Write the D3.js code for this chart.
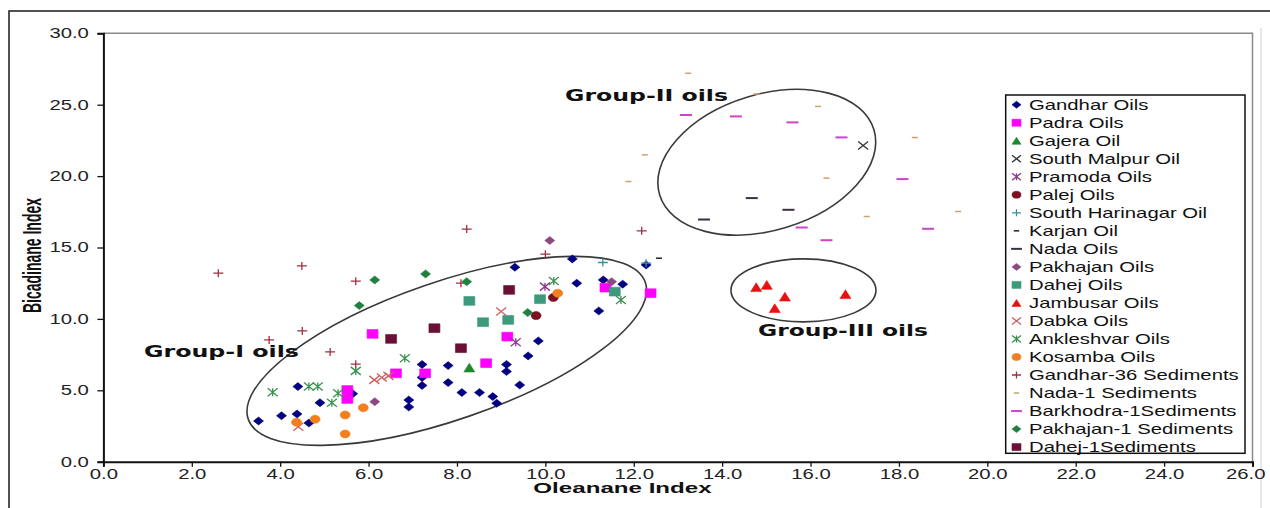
<!DOCTYPE html>
<meta charset="utf-8">
<script src="https://cdn.jsdelivr.net/npm/d3@7"></script>
<style>
  body { margin: 0; background: #fff; }
  text { font-family: "Liberation Sans", Arial, sans-serif; }
</style>
<div id="chart"></div>
<script>
// ---- data (Oleanane Index, Bicadinane Index) ----
var gandharOils = [[3.51,2.85],[4.03,3.22],[4.38,3.34],[4.40,5.26],[4.65,2.71],[4.90,4.13],[5.64,4.76],
  [6.91,4.32],[6.91,3.83],[7.21,6.81],[7.21,5.90],[7.21,5.34],[7.80,6.73],[7.80,5.54],[8.11,4.84],[8.51,4.84],
  [8.81,4.56],[8.90,4.09],[9.12,6.81],[9.12,6.32],[9.42,5.37],[9.61,7.41],[9.84,8.46],[9.31,13.62],[10.61,14.20],
  [10.71,12.50],[11.21,10.56],[11.31,12.73],[11.75,12.43],[12.28,13.78]];
var padraOils = [[6.09,8.95],[6.62,6.19],[5.52,5.02],[5.52,4.39],[9.14,8.76],[8.66,6.90],[7.28,6.19],[11.36,12.19],[12.38,11.80]];
var gajeraOil = [[8.28,6.59]];
var southMalpurOil = [[17.19,22.14]];
var pramodaOils = [[9.99,12.26],[9.33,8.37]];
var palejOils = [[10.18,11.50],[9.79,10.23]];
var southHarinagarOil = [[11.30,13.95],[12.28,13.90]];
var karjanOil = [[12.57,14.25]];
var nadaOils = [[14.67,18.46],[13.59,16.96],[15.50,17.64]];
var pakhajanOils = [[10.10,15.49],[6.14,4.20],[11.50,12.61]];
var dahejOils = [[8.28,11.26],[8.59,9.77],[9.16,9.93],[9.88,11.38],[11.57,11.91]];
var jambusarOils = [[14.77,12.22],[15.01,12.38],[15.42,11.56],[15.19,10.75],[16.79,11.73]];
var dabkaOils = [[6.13,5.73],[6.30,5.89],[6.45,6.01],[4.41,2.45],[9.00,10.51]];
var ankleshvarOils = [[3.83,4.86],[4.65,5.26],[4.85,5.26],[5.31,4.79],[5.17,4.13],[5.71,6.36],[6.82,7.25],[10.19,12.66],[11.71,11.33]];
var kosambaOils = [[4.37,2.76],[4.79,2.97],[5.47,3.27],[5.47,1.94],[5.88,3.78],[10.28,11.80]];
var gandhar36Sed = [[2.60,13.20],[4.49,13.71],[5.71,12.64],[3.75,8.53],[4.50,9.16],[5.13,7.69],[5.71,6.83],[8.22,16.29],[12.18,16.17],[10.00,14.53],[8.09,12.50]];
var nada1Sed = [[13.23,27.20],[14.78,25.75],[16.17,24.88],[12.25,21.49],[11.88,19.62],[16.36,19.86],[18.36,22.70],[17.27,17.17],[19.34,17.52]];
var barkhodra1Sed = [[13.18,24.28],[14.31,24.18],[15.59,23.76],[16.70,22.71],[18.08,19.79],[15.80,16.40],[16.36,15.51],[18.66,16.31]];
var pakhajan1Sed = [[6.14,12.73],[5.79,10.93],[7.29,13.15],[8.22,12.61],[9.60,10.44]];
var dahej1Sed = [[6.51,8.60],[9.18,12.03],[7.49,9.35],[8.09,7.95]];

var xTicks = d3.range(0, 26.1, 2);
var yTicks = d3.range(0, 30.1, 5);

// series: name, values, shape, colour (legend order)
var series = [
  {name: "Gandhar Oils", values: gandharOils, shape: "diamond", color: "#000080"},
  {name: "Padra Oils", values: padraOils, shape: "square", color: "#ff00ff"},
  {name: "Gajera Oil", values: gajeraOil, shape: "triangle", color: "#1d8a2a"},
  {name: "South Malpur Oil", values: southMalpurOil, shape: "cross", color: "#333333"},
  {name: "Pramoda Oils", values: pramodaOils, shape: "star", color: "#8a3a8a"},
  {name: "Palej Oils", values: palejOils, shape: "circle", color: "#7a1020"},
  {name: "South Harinagar Oil", values: southHarinagarOil, shape: "plus", color: "#3a9090"},
  {name: "Karjan Oil", values: karjanOil, shape: "dash", color: "#222222"},
  {name: "Nada Oils", values: nadaOils, shape: "longdash", color: "#3a3040"},
  {name: "Pakhajan Oils", values: pakhajanOils, shape: "diamond", color: "#8a4a80"},
  {name: "Dahej Oils", values: dahejOils, shape: "square", color: "#3d9a7c"},
  {name: "Jambusar Oils", values: jambusarOils, shape: "triangle", color: "#e81010"},
  {name: "Dabka Oils", values: dabkaOils, shape: "cross", color: "#cc6060"},
  {name: "Ankleshvar Oils", values: ankleshvarOils, shape: "star", color: "#3a9050"},
  {name: "Kosamba Oils", values: kosambaOils, shape: "circle", color: "#f07f1f"},
  {name: "Gandhar-36 Sediments", values: gandhar36Sed, shape: "plus", color: "#a03040"},
  {name: "Nada-1  Sediments", values: nada1Sed, shape: "dash", color: "#d0a070"},
  {name: "Barkhodra-1Sediments", values: barkhodra1Sed, shape: "longdash", color: "#cc44cc"},
  {name: "Pakhajan-1  Sediments", values: pakhajan1Sed, shape: "diamond", color: "#1f8040"},
  {name: "Dahej-1Sediments", values: dahej1Sed, shape: "square", color: "#6a1036"}
];

// group outlines: centre in data units, radii in px, angle in degrees
var groups = [
  {label: "Group-I oils", cx: 7.77, cy: 7.76, rx: 210, ry: 69, angle: -19, tx: 144, ty: 356.5, tw: 155},
  {label: "Group-II oils", cx: 15.01, cy: 20.97, rx: 112, ry: 68, angle: -17, tx: 565, ty: 100.5, tw: 163},
  {label: "Group-III oils", cx: 15.84, cy: 12.0, rx: 72.5, ry: 31.5, angle: 0, tx: 758, ty: 335.5, tw: 170}
];

var W = 1270, H = 508, sx = 1.45;
var margin = {top: 33.3, right: 17.5, bottom: 46.3, left: 103.4};

var svg = d3.select("#chart").append("svg")
  .attr("width", W).attr("height", H);

var x = d3.scaleLinear().domain([0, 26]).range([margin.left, W - margin.right]);
var y = d3.scaleLinear().domain([0, 30]).range([H - margin.bottom, margin.top]);

// outer frame
svg.append("path").attr("d", "M9,508 V11 H1270").attr("fill", "none").attr("stroke", "#1a1a1a").attr("stroke-width", 1.5);
svg.append("line").attr("x1", 1261).attr("x2", 1261).attr("y1", 28).attr("y2", 508).attr("stroke", "#d0d0d0");

// plot area border
svg.append("path")
  .attr("d", "M" + x(0) + "," + y(30) + " H" + x(26) + " V" + y(0))
  .attr("fill", "none").attr("stroke", "#8a8a8a").attr("stroke-width", 1.5);

function shapePath(shape, w, h) {
  var a = w / 2, b = h / 2;
  switch (shape) {
    case "diamond": return "M0," + (-b) + "L" + a + ",0L0," + b + "L" + (-a) + ",0Z";
    case "square": return "M" + (-a) + "," + (-b) + "H" + a + "V" + b + "H" + (-a) + "Z";
    case "triangle": return "M0," + (-b) + "L" + a + "," + b + "H" + (-a) + "Z";
    case "circle": return "M" + (-a) + ",0A" + a + "," + b + " 0 1,0 " + a + ",0A" + a + "," + b + " 0 1,0 " + (-a) + ",0Z";
    case "cross": return "M" + (-a) + "," + (-b) + "L" + a + "," + b + "M" + (-a) + "," + b + "L" + a + "," + (-b);
    case "plus": return "M" + (-a) + ",0H" + a + "M0," + (-b) + "V" + b;
    case "star": return "M" + (-a) + "," + (-b) + "L" + a + "," + b + "M" + (-a) + "," + b + "L" + a + "," + (-b) + "M0," + (-b) + "V" + b;
    case "dash": return "M" + (-a * 0.6) + ",0H" + (a * 0.6);
    case "longdash": return "M" + (-a * 1.2) + ",0H" + (a * 1.2);
  }
}
var filled = {diamond: 1, square: 1, triangle: 1, circle: 1};
function styleMarker(sel, s) {
  if (filled[s.shape]) sel.attr("fill", s.color).attr("stroke", s.color).attr("stroke-width", 0.6);
  else sel.attr("fill", "none").attr("stroke", s.color)
          .attr("stroke-width", s.shape === "longdash" ? 2 : (s.shape === "dash" ? 1.5 : 1.3));
}

// axes
var yAxis = svg.append("g")
  .attr("transform", "translate(" + x(0) + ",0)")
  .call(d3.axisLeft(y).tickValues(yTicks).tickFormat(d3.format(".1f")).tickSize(6).tickPadding(4));
var xAxis = svg.append("g")
  .attr("transform", "translate(0," + y(0) + ")")
  .call(d3.axisBottom(x).tickValues(xTicks).tickFormat(d3.format(".1f")).tickSize(5).tickPadding(2));
[xAxis, yAxis].forEach(function(ax) {
  ax.select(".domain").attr("stroke", "#111").attr("stroke-width", 2);
  ax.selectAll(".tick line").attr("stroke", "#111").attr("stroke-width", 1.3);
  ax.selectAll(".tick text")
    .attr("fill", "#222")
    .style("font-size", "14px")
    .style("font-family", "'Liberation Sans', Arial, sans-serif")
    .attr("transform", "scale(" + sx + ",1)");
});
// last x label sits inside the frame, as in the original
xAxis.selectAll(".tick text").filter(function(d) { return d === 26; })
  .attr("x", -5);

// group ellipses
svg.selectAll(".grp")
  .data(groups)
  .enter()
  .append("ellipse")
  .attr("transform", function(d) { return "translate(" + x(d.cx) + "," + y(d.cy) + ") rotate(" + d.angle + ")"; })
  .attr("rx", function(d) { return d.rx; })
  .attr("ry", function(d) { return d.ry; })
  .attr("fill", "none")
  .attr("stroke", "#3a3a3a")
  .attr("stroke-width", 1.6);

// points
series.forEach(function(s) {
  var big = (s.shape === "square" || s.shape === "triangle") ? 1.1 : 1;
  svg.append("g").selectAll("path")
    .data(s.values)
    .enter()
    .append("path")
    .attr("transform", function(d) { return "translate(" + x(d[0]) + "," + y(d[1]) + ")"; })
    .attr("d", shapePath(s.shape, 10 * big, 8 * big))
    .call(styleMarker, s);
});

// group labels
svg.selectAll(".glabel")
  .data(groups)
  .enter()
  .append("text")
  .attr("x", function(d) { return d.tx; })
  .attr("y", function(d) { return d.ty; })
  .attr("textLength", function(d) { return d.tw; })
  .attr("lengthAdjust", "spacingAndGlyphs")
  .style("font-family", "'DejaVu Sans', sans-serif")
  .style("font-weight", "bold")
  .style("font-size", "16px")
  .attr("fill", "#111")
  .text(function(d) { return d.label; });

// axis titles
svg.append("text")
  .attr("transform", "translate(622.5,492.5) scale(" + sx + ",1)")
  .attr("text-anchor", "middle")
  .attr("textLength", 123)
  .attr("lengthAdjust", "spacingAndGlyphs")
  .style("font-weight", "bold").style("font-size", "15px")
  .attr("fill", "#111")
  .text("Oleanane Index");
svg.append("text")
  .attr("transform", "translate(40.5,255.5) scale(" + sx + ",1) rotate(-90)")
  .attr("text-anchor", "middle")
  .attr("textLength", 115)
  .attr("lengthAdjust", "spacingAndGlyphs")
  .style("font-weight", "bold").style("font-size", "18px")
  .attr("fill", "#111")
  .text("Bicadinane Index");

// legend
var legend = svg.append("g");
legend.append("rect")
  .attr("x", 1005.7).attr("y", 95).attr("width", 239.3).attr("height", 358.3)
  .attr("fill", "#fff").attr("stroke", "#111").attr("stroke-width", 1.5);
var rows = legend.selectAll(".row")
  .data(series)
  .enter()
  .append("g")
  .attr("transform", function(d, i) { return "translate(0," + (104.7 + i * 18.02) + ")"; });
rows.append("path")
  .attr("transform", "translate(1016.5,0)")
  .attr("d", function(d) { return shapePath(d.shape, 9, 7); })
  .each(function(d) { d3.select(this).call(styleMarker, d); });
rows.append("text")
  .attr("transform", "translate(1029,0) scale(" + sx + ",1)")
  .attr("dy", "0.35em")
  .style("font-size", "14px")
  .attr("fill", "#111")
  .text(function(d) { return d.name; });
</script>
